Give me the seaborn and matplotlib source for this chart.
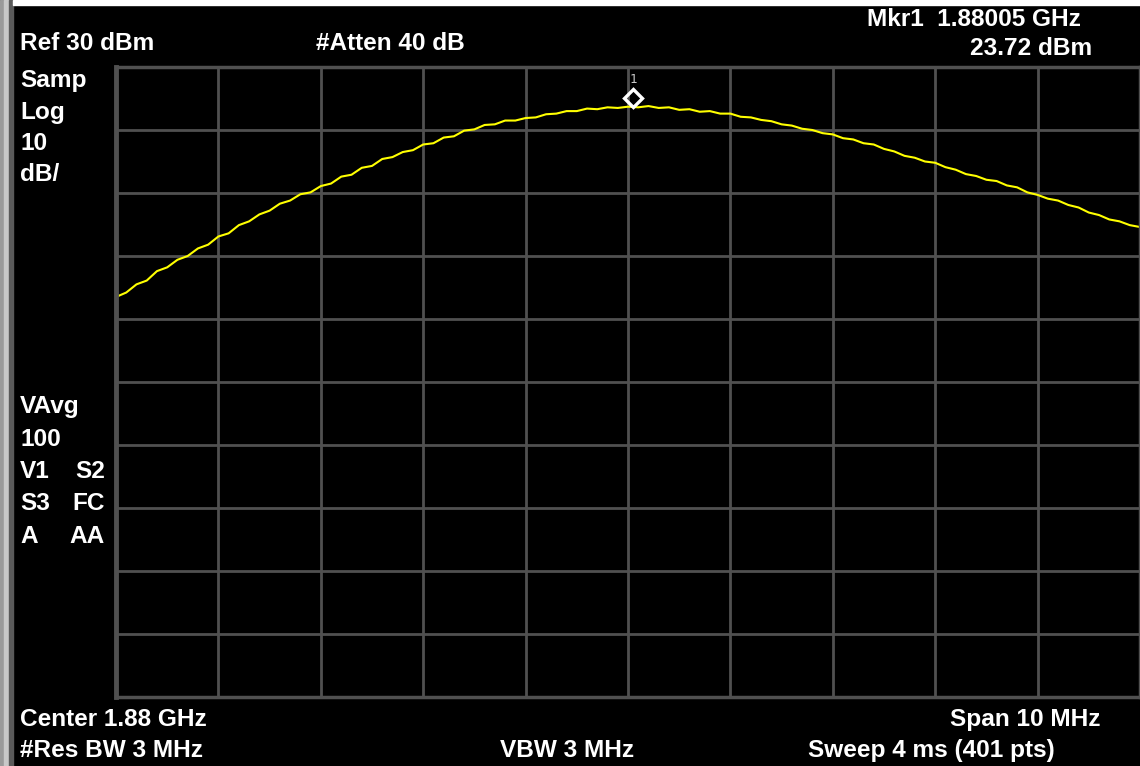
import numpy as np
import pandas as pd
import matplotlib
matplotlib.use("Agg")
import matplotlib.pyplot as plt
import matplotlib.transforms as mtransforms
from matplotlib.patches import Rectangle
import seaborn as sns

# Analyzer settings
center_mhz = 1880.0
span_mhz = 10.0
ref_dbm = 30.0
db_per_div = 10.0

# Trace, 0.1 MHz steps from 1875 to 1885 MHz (dBm)
trace_dbm = [
    -6.5, -5.8, -4.5, -3.9, -2.4, -1.8, -0.6, 0.0, 1.2, 1.8,
    3.1, 3.6, 4.9, 5.5, 6.6, 7.2, 8.3, 8.8, 9.8, 10.1,
    11.1, 11.5, 12.6, 12.9, 14.0, 14.3, 15.4, 15.7, 16.5, 16.8,
    17.7, 17.9, 18.8, 19.0, 19.9, 20.1, 20.8, 20.9, 21.5, 21.5,
    21.9, 22.0, 22.5, 22.6, 23.0, 23.0, 23.4, 23.3, 23.6, 23.5,
    23.7, 23.6, 23.8, 23.5, 23.6, 23.2, 23.3, 22.9, 23.0, 22.6,
    22.6, 22.1, 22.0, 21.6, 21.4, 20.9, 20.7, 20.2, 20.0, 19.5,
    19.3, 18.7, 18.5, 17.9, 17.7, 17.0, 16.6, 15.9, 15.6, 15.0,
    14.8, 14.1, 13.7, 13.0, 12.7, 12.1, 11.9, 11.2, 10.9, 10.1,
    9.7, 9.1, 8.8, 8.1, 7.7, 6.9, 6.5, 5.8, 5.5, 4.9,
    4.6,
]
freq_mhz = np.linspace(center_mhz - span_mhz / 2, center_mhz + span_mhz / 2, len(trace_dbm))

marker_mhz = 1880.05
marker_dbm = 23.72

W, H = 1140, 766
GRID = "#505050"


def px(x, y):
    return x / W, 1 - y / H


sns.set_style("dark")
fig = plt.figure(figsize=(W / 100, H / 100), dpi=100, facecolor="black")
ax = fig.add_axes([116 / W, 69 / H, (W - 116) / W, (697 - 67) / H])
ax.set_facecolor("black")

df = pd.DataFrame({"freq": freq_mhz, "level": trace_dbm})
sns.lineplot(data=df, x="freq", y="level", ax=ax, color="#ffff00", linewidth=1.5)

ax.set_xlim(center_mhz - span_mhz / 2, center_mhz + span_mhz / 2)
ax.set_ylim(ref_dbm - 10 * db_per_div, ref_dbm)
ax.set_xticks(np.arange(center_mhz - span_mhz / 2, center_mhz + span_mhz / 2 + 0.01, span_mhz / 10))
ax.set_yticks(np.arange(ref_dbm - 10 * db_per_div, ref_dbm + 0.01, db_per_div))
ax.grid(True, color=GRID, linewidth=2)
ax.tick_params(length=0, labelbottom=False, labelleft=False)
ax.set_xlabel("")
ax.set_ylabel("")
for side, sp in ax.spines.items():
    sp.set_visible(True)
    sp.set_color(GRID)
    sp.set_linewidth(2.5)
ax.spines["left"].set_linewidth(3.5)

# marker diamond sitting just above the trace, with its number
lift = mtransforms.ScaledTranslation(0, 0.085, fig.dpi_scale_trans)
ax.plot([marker_mhz], [marker_dbm], marker="D", ms=9, mfc="none", mec="white",
        mew=2.4, transform=ax.transData + lift, clip_on=False)
lift2 = mtransforms.ScaledTranslation(0, 0.27, fig.dpi_scale_trans)
ax.text(marker_mhz, marker_dbm, "1", color="#c8c8c8", fontsize=9,
        family="DejaVu Sans Mono", ha="center", va="center",
        transform=ax.transData + lift2)

# screen border bits
fig.patches.append(Rectangle((0, 0), 4 / W, 1, transform=fig.transFigure, color="#9a9a9a"))
fig.patches.append(Rectangle((4 / W, 0), 5 / W, 1, transform=fig.transFigure, color="#c8c8c8"))
fig.patches.append(Rectangle((9 / W, 0), 4 / W, 1, transform=fig.transFigure, color="#5a5a5a"))
fig.patches.append(Rectangle((13 / W, 1 - 5 / H), 1, 5 / H, transform=fig.transFigure, color="white"))

txt = dict(color="white", fontsize=17.6, fontweight="bold", family="Liberation Sans", va="baseline")

fig.text(*px(20, 50), "Ref 30 dBm", **txt)
fig.text(*px(316, 50), "#Atten 40 dB", **txt)
fig.text(*px(1081, 26), "Mkr1  1.88005 GHz", ha="right", **txt)
fig.text(*px(1092, 55), "23.72 dBm", ha="right", **txt)

for label, y in [("Samp", 87), ("Log", 119), ("10", 150), ("dB/", 181),
                 ("VAvg", 413), ("100", 446)]:
    fig.text(*px(20, y), label, **txt)
for left, right, y in [("V1", "S2", 478), ("S3", "FC", 510), ("A", "AA", 543)]:
    fig.text(*px(20, y), left, **txt)
    fig.text(*px(105, y), right, ha="right", **txt)

fig.text(*px(20, 726), "Center 1.88 GHz", **txt)
fig.text(*px(1101, 726), "Span 10 MHz", ha="right", **txt)
fig.text(*px(20, 757), "#Res BW 3 MHz", **txt)
fig.text(*px(500, 757), "VBW 3 MHz", **txt)
fig.text(*px(808, 757), "Sweep 4 ms (401 pts)", **txt)

fig.savefig("out.png", dpi=100, facecolor="black")
